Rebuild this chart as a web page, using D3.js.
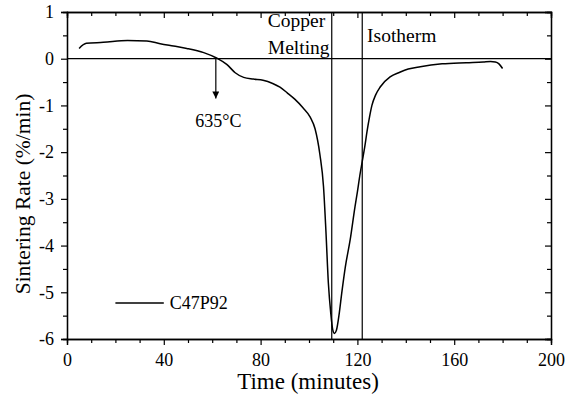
<!DOCTYPE html>
<html>
<head>
<meta charset="utf-8">
<script src="https://cdn.jsdelivr.net/npm/d3@7"></script>
<style>
  html, body { margin: 0; padding: 0; background: #fff; }
  svg { display: block; }
</style>
</head>
<body>
<svg id="chart" width="565" height="398"></svg>
<script>
// Sintering rate curve (time in minutes, rate in %/min)
const timeMin = [5, 8, 15, 25, 33, 38.5, 44, 49.5, 56.5, 62, 66, 69.5, 73, 77, 81, 85, 88, 91, 94, 97.5,
  100.5, 102.5, 104.5, 106, 107, 108, 109, 109.8, 110.5, 111.3, 112.5, 113.5, 115, 117, 119, 120, 121, 122,
  123, 124, 125, 126, 127.5, 129.5, 133.5, 137.5, 141, 146, 155, 165, 172, 175, 177, 178.5, 180];
const rate = [0.22, 0.33, 0.35, 0.39, 0.38, 0.32, 0.27, 0.22, 0.13, 0.01, -0.12, -0.30, -0.40, -0.435, -0.46, -0.53, -0.61, -0.73, -0.86, -1.05,
  -1.25, -1.5, -2.05, -2.74, -3.7, -4.8, -5.45, -5.8, -5.88, -5.82, -5.45, -5.03, -4.46, -3.88, -3.17, -2.85, -2.5, -2.2,
  -1.9, -1.55, -1.25, -1.0, -0.78, -0.6, -0.39, -0.29, -0.22, -0.17, -0.11, -0.085, -0.07, -0.06, -0.07, -0.11, -0.21];

const xTicks = [0, 40, 80, 120, 160, 200];
const yTicks = [-6, -5, -4, -3, -2, -1, 0, 1];
const markers = [109.4, 122];       // copper melting / isotherm lines
const onsetTime = 61.5;             // 635 °C arrow
const seriesName = "C47P92";

const FONT = '"Liberation Serif", "DejaVu Serif", serif';

const svg = d3.select("#chart");
const margin = { top: 12, right: 14, bottom: 59, left: 67 };
const width = 565 - margin.left - margin.right;
const height = 398 - margin.top - margin.bottom;

const x = d3.scaleLinear().domain([0, 200]).range([0, width]);
const y = d3.scaleLinear().domain([-6, 1]).range([height, 0]);

const g = svg.append("g").attr("transform", `translate(${margin.left},${margin.top})`);

// Minor ticks
const xMinor = d3.range(0, 201, 10).filter(v => v % 40 !== 0);
const yMinor = d3.range(-5.5, 1, 1);
const plain = d => String(d);

function styleAxis(sel) {
  sel.attr("font-family", FONT);
  sel.select(".domain").attr("stroke", "#000").attr("stroke-width", 1.3);
  sel.selectAll(".tick line").attr("stroke", "#000").attr("stroke-width", 1.2);
  sel.selectAll("text").style("font-family", FONT).style("font-size", "18px").attr("fill", "#000");
}

// bottom
g.append("g").attr("transform", `translate(0,${height})`)
  .call(d3.axisBottom(x).tickValues(xMinor).tickSize(4).tickFormat(""))
  .call(styleAxis);
g.append("g").attr("transform", `translate(0,${height})`)
  .call(d3.axisBottom(x).tickValues(xTicks).tickSize(6).tickPadding(8).tickFormat(plain))
  .call(styleAxis);
// top (inward)
g.append("g")
  .call(d3.axisTop(x).tickValues(xMinor).tickSize(-4).tickFormat(""))
  .call(styleAxis);
g.append("g")
  .call(d3.axisTop(x).tickValues(xTicks).tickSize(-6).tickFormat(""))
  .call(styleAxis);
// left
g.append("g")
  .call(d3.axisLeft(y).tickValues(yMinor).tickSize(4).tickFormat(""))
  .call(styleAxis);
g.append("g")
  .call(d3.axisLeft(y).tickValues(yTicks).tickSize(6).tickPadding(7).tickFormat(plain))
  .call(styleAxis);
// right (inward)
g.append("g").attr("transform", `translate(${width},0)`)
  .call(d3.axisRight(y).tickValues(yMinor).tickSize(-4).tickFormat(""))
  .call(styleAxis);
g.append("g").attr("transform", `translate(${width},0)`)
  .call(d3.axisRight(y).tickValues(yTicks).tickSize(-6).tickFormat(""))
  .call(styleAxis);

// zero line
g.append("line")
  .attr("x1", x(0)).attr("x2", x(200))
  .attr("y1", y(0)).attr("y2", y(0))
  .attr("stroke", "#000").attr("stroke-width", 1.2);

// vertical marker lines
g.selectAll(".marker")
  .data(markers)
  .join("line")
  .attr("class", "marker")
  .attr("x1", d => x(d)).attr("x2", d => x(d))
  .attr("y1", y(1)).attr("y2", y(-6))
  .attr("stroke", "#000").attr("stroke-width", 1.2);

// curve
const data = timeMin.map((t, i) => ({ t, r: rate[i] }));
const line = d3.line()
  .x(d => x(d.t))
  .y(d => y(d.r))
  .curve(d3.curveMonotoneX);

g.append("path")
  .datum(data)
  .attr("fill", "none")
  .attr("stroke", "#000")
  .attr("stroke-width", 1.5)
  .attr("d", line);

// arrow at 635 °C
svg.append("defs").append("marker")
  .attr("id", "arrow")
  .attr("viewBox", "0 0 10 10")
  .attr("refX", 10).attr("refY", 5)
  .attr("markerWidth", 10).attr("markerHeight", 7)
  .attr("markerUnits", "userSpaceOnUse")
  .attr("orient", "auto")
  .append("path")
  .attr("d", "M0,0 L10,5 L0,10 Z")
  .attr("fill", "#000");

g.append("line")
  .attr("x1", x(onsetTime)).attr("x2", x(onsetTime))
  .attr("y1", y(0)).attr("y2", y(-0.85))
  .attr("stroke", "#000").attr("stroke-width", 1.2)
  .attr("marker-end", "url(#arrow)");

// annotations
const annot = [
  { t: "635°C", xv: 53, yv: -1.46, size: 18 },
  { t: "Copper", xv: 83, yv: 0.68, size: 19.5 },
  { t: "Melting", xv: 83, yv: 0.1, size: 19.5 },
  { t: "Isotherm", xv: 124, yv: 0.35, size: 19.5 }
];
g.selectAll(".annot")
  .data(annot)
  .join("text")
  .attr("class", "annot")
  .attr("x", d => x(d.xv))
  .attr("y", d => y(d.yv))
  .style("font-family", FONT)
  .style("font-size", d => d.size + "px")
  .text(d => d.t);

// legend
const lg = g.append("g");
lg.append("line")
  .attr("x1", x(20)).attr("x2", x(40))
  .attr("y1", y(-5.23)).attr("y2", y(-5.23))
  .attr("stroke", "#000").attr("stroke-width", 1.5);
lg.append("text")
  .attr("x", x(42.5))
  .attr("y", y(-5.23) + 6)
  .style("font-family", FONT)
  .style("font-size", "18px")
  .text(seriesName);

// axis titles
svg.append("text")
  .attr("x", 308)
  .attr("y", 389)
  .attr("text-anchor", "middle")
  .style("font-family", FONT)
  .style("font-size", "23px")
  .text("Time (minutes)");

svg.append("text")
  .attr("transform", "translate(30,194) rotate(-90)")
  .attr("text-anchor", "middle")
  .style("font-family", FONT)
  .style("font-size", "21.5px")
  .text("Sintering Rate (%/min)");
</script>
</body>
</html>
